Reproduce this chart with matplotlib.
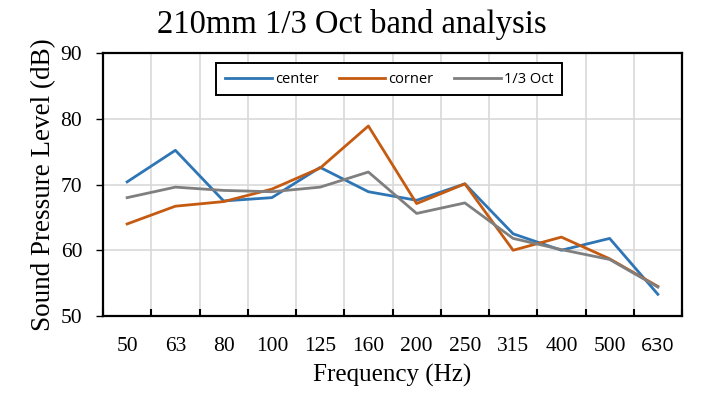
import matplotlib
matplotlib.use("Agg")
import matplotlib.pyplot as plt
import numpy as np

# 1/3 octave band centre frequencies
bands = ["50", "63", "80", "100", "125", "160", "200", "250", "315", "400", "500", "630"]
center = [70.4, 75.2, 67.5, 68.0, 72.6, 68.9, 67.6, 70.1, 62.5, 60.0, 61.8, 53.3]
corner = [64.0, 66.7, 67.4, 69.3, 72.5, 78.9, 67.1, 70.1, 60.0, 62.0, 58.7, 54.5]
oct_third = [68.0, 69.6, 69.1, 68.9, 69.6, 71.9, 65.6, 67.2, 61.8, 60.1, 58.6, 54.4]

serif = "Liberation Serif"
sans = "Open Sans"

fig = plt.figure(figsize=(7.03, 3.99), dpi=100)
ax = fig.add_axes([103 / 703, 1 - 316 / 399, 579 / 703, 263 / 399])

x = np.arange(len(bands))
ax.plot(x, center, color="#2E75B6", lw=2.0, label="center")
ax.plot(x, corner, color="#C55A11", lw=2.0, label="corner")
ax.plot(x, oct_third, color="#7F7F7F", lw=2.0, label="1/3 Oct")

ax.set_xlim(-0.5, len(bands) - 0.5)
ax.set_ylim(50, 90)
ax.set_yticks([50, 60, 70, 80, 90])

# gridlines sit between categories, like excel
ax.set_xticks(np.arange(len(bands) + 1) - 0.5, minor=True)
ax.set_xticks(x)
ax.set_xticklabels(bands)
ax.grid(True, which="minor", axis="x", color="#D9D9D9", lw=1.2)
ax.grid(True, which="major", axis="y", color="#D9D9D9", lw=1.2)
ax.tick_params(axis="x", which="major", length=0, pad=15)
ax.tick_params(axis="x", which="minor", direction="in", length=5, width=1.5, color="black")
ax.tick_params(axis="y", direction="out", length=5, width=1, pad=10)
for lab in ax.get_xticklabels() + ax.get_yticklabels():
    lab.set_fontfamily(serif)
    lab.set_fontsize(15.5)
ax.get_xticklabels()[-1].set_fontfamily(sans)
ax.get_xticklabels()[-1].set_fontsize(14)

for s in ax.spines.values():
    s.set_linewidth(1.6)
    s.set_color("black")

ax.set_xlabel("Frequency (Hz)", fontfamily=serif, fontsize=18, labelpad=6)
ax.set_ylabel("Sound Pressure Level (dB)", fontfamily=serif, fontsize=19.5, labelpad=3)
fig.suptitle("210mm 1/3 Oct band analysis", fontfamily=serif, fontsize=23.5, y=0.978)

leg = ax.legend(loc="upper center", bbox_to_anchor=(0.494, 0.962), ncol=3, frameon=True,
                fancybox=False, edgecolor="black", framealpha=1,
                prop={"family": sans, "size": 10.5}, handlelength=3.2,
                columnspacing=1.4, handletextpad=0.2, borderpad=0.6, borderaxespad=0)
leg.get_frame().set_linewidth(1.4)

fig.savefig("out.png", dpi=100)
